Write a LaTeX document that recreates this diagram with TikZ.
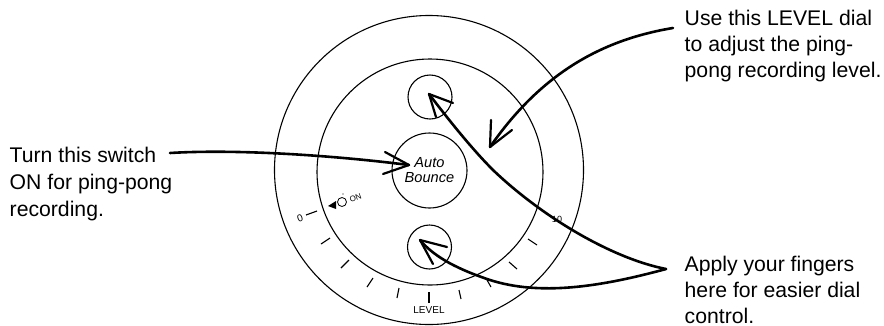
\documentclass[tikz,border=0pt]{standalone}
\usepackage{fontspec}
\setmainfont{Liberation Sans}
\begin{document}
\begin{tikzpicture}[x=1pt,y=-1pt,
  ring/.style={circle,draw=black,line width=1.1pt,minimum size=#1,inner sep=0pt},
  lead/.style={line width=2.6pt,black,line cap=round},
  barb/.style={line width=2.2pt,black,line cap=round},
  tick/.style={line width=1.1pt,black},
  note/.style={anchor=west,align=left,font=\fontsize{21.2}{26}\selectfont,inner sep=0pt}]
\useasboundingbox (0,0) rectangle (884,325);
\node[ring=309pt] (outer) at (429,170) {};
\node[ring=226pt] (inner) at (430,172) {};
\node[ring=75pt,align=center,font=\fontsize{14.6}{15}\selectfont\itshape] (bounce) at (429.5,170.5) {Auto\\Bounce};
\node[ring=44pt] (dialtop) at (430,97) {};
\node[ring=44pt] (dialbot) at (429.5,247) {};
% ticks
\foreach \a/\b/\c/\d in {306/215/317/211,321/244/330/238,341/268/349/260,367/287/373/278,397/298/399/288,429/292/429/303,459/290/461/299,487/280/491/287,509/262/517/269,528/239/537/245}
  \draw[tick] (\a,\b) -- (\c,\d);
\node[font=\fontsize{10}{11}\selectfont,inner sep=0pt] (level) at (429,310) {LEVEL};
\node[font=\fontsize{10}{11}\selectfont,inner sep=0pt,rotate=20] (zero) at (300,218) {0};
\node[font=\fontsize{8}{9}\selectfont,inner sep=0pt,rotate=20] (on) at (355.5,198) {ON};
\node[font=\fontsize{9}{10}\selectfont,inner sep=0pt] (ten) at (557,219) {10};
\node[circle,draw=black,line width=0.8pt,minimum size=9pt,inner sep=0pt] (sw) at (342,202) {};
\fill (328,206) -- (336,201) -- (336,209) -- cycle;
\fill (343,194) circle (0.6);
% texts
\node[note,font=\fontsize{21.2}{27}\selectfont] (t1) at (9.5,184) {Turn this switch\\ON for ping-pong\\recording.};
\node[note] (t2) at (684.5,46) {Use this LEVEL dial\\to adjust the ping-\\pong recording level.};
\node[note] (t3) at (684.5,289.5) {Apply your fingers\\here for easier dial\\control.};
% anchors
\coordinate (s1) at (170,153);
\coordinate (s2) at (673,28);
\coordinate (s3) at (666,269);
\coordinate (p1) at (409,165);
\coordinate (p2) at (490,147);
\coordinate (p3) at (429,94);
\coordinate (p4) at (420,240);
% leaders
\draw[lead] (s1) .. controls (235,149) and (330,155) .. (p1);
\draw[barb] (p1) -- (385,152);
\draw[barb] (p1) -- (383,174);
\draw[lead] (s2) .. controls (600,40) and (540,75) .. (p2);
\draw[barb] (p2) -- (491,120);
\draw[barb] (p2) -- (512,130);
\draw[lead] (s3) .. controls (610,258) and (540,215) .. (493,170) .. controls (470,147) and (445,115) .. (p3);
\draw[barb] (p3) -- (453,103);
\draw[barb] (p3) -- (436,117);
\draw[lead] (s3) .. controls (600,287) and (540,296) .. (490,280) .. controls (460,270) and (435,258) .. (p4);
\draw[barb] (p4) -- (447,247);
\draw[barb] (p4) -- (433,264);
\end{tikzpicture}
\end{document}
